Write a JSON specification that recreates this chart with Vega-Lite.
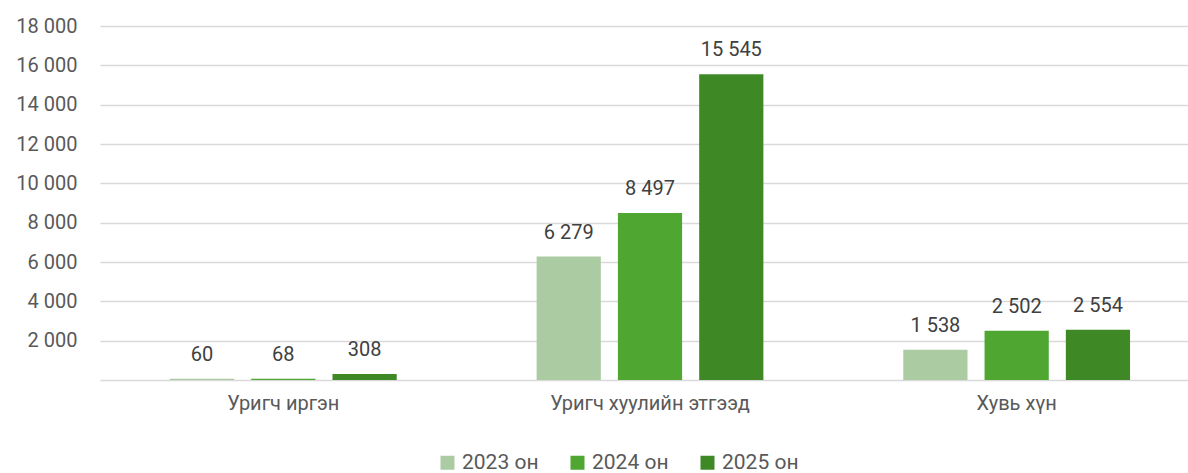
{
  "$schema": "https://vega.github.io/schema/vega-lite/v6.json",
  "width": 1100,
  "height": 354,
  "autosize": {"type": "none"},
  "padding": {"left": 100, "top": 26, "right": 0, "bottom": 93},
  "config": {
    "font": "Roboto",
    "view": {"stroke": null},
    "locale": {"number": {"decimal": ",", "thousands": " ", "grouping": [3], "currency": ["", ""]}}
  },
  "data": {
    "values": [
      {"category": "Уригч иргэн", "year": "2023 он", "value": 60},
      {"category": "Уригч иргэн", "year": "2024 он", "value": 68},
      {"category": "Уригч иргэн", "year": "2025 он", "value": 308},
      {"category": "Уригч хуулийн этгээд", "year": "2023 он", "value": 6279},
      {"category": "Уригч хуулийн этгээд", "year": "2024 он", "value": 8497},
      {"category": "Уригч хуулийн этгээд", "year": "2025 он", "value": 15545},
      {"category": "Хувь хүн", "year": "2023 он", "value": 1538},
      {"category": "Хувь хүн", "year": "2024 он", "value": 2502},
      {"category": "Хувь хүн", "year": "2025 он", "value": 2554}
    ]
  },
  "encoding": {
    "x": {
      "field": "category", "type": "nominal", "sort": null,
      "scale": {"paddingInner": 0.335, "paddingOuter": 0.1675},
      "axis": {"title": null, "labelAngle": 0, "labelFontSize": 20, "labelLimit": 0, "labelColor": "#595959", "labelPadding": 13, "ticks": false, "domainColor": "#d9d9d9", "domainWidth": 1.5}
    },
    "xOffset": {"field": "year", "type": "nominal", "scale": {"paddingInner": 0.21, "paddingOuter": 0.105}},
    "y": {
      "field": "value", "type": "quantitative",
      "scale": {"domain": [0, 18000]},
      "axis": {"title": null, "values": [2000, 4000, 6000, 8000, 10000, 12000, 14000, 16000, 18000], "format": ",d", "labelFontSize": 20, "labelColor": "#595959", "labelPadding": 23, "ticks": false, "domain": false, "gridColor": "#d9d9d9", "gridWidth": 1.5}
    }
  },
  "layer": [
    {
      "mark": {"type": "bar"},
      "encoding": {
        "color": {
          "field": "year", "type": "nominal",
          "scale": {"range": ["#abcba2", "#4fa731", "#3f8826"]},
          "legend": {"title": null, "orient": "none", "legendX": 337, "legendY": 426, "direction": "horizontal", "symbolType": "square", "symbolSize": 196, "symbolStrokeWidth": 0, "labelFontSize": 21, "labelColor": "#595959", "labelOffset": 4, "columnPadding": 28}
        }
      }
    },
    {
      "mark": {"type": "text", "fontSize": 20, "color": "#404040", "baseline": "alphabetic", "dy": -18},
      "encoding": {"text": {"field": "value", "type": "quantitative", "format": ",d"}}
    }
  ]
}
